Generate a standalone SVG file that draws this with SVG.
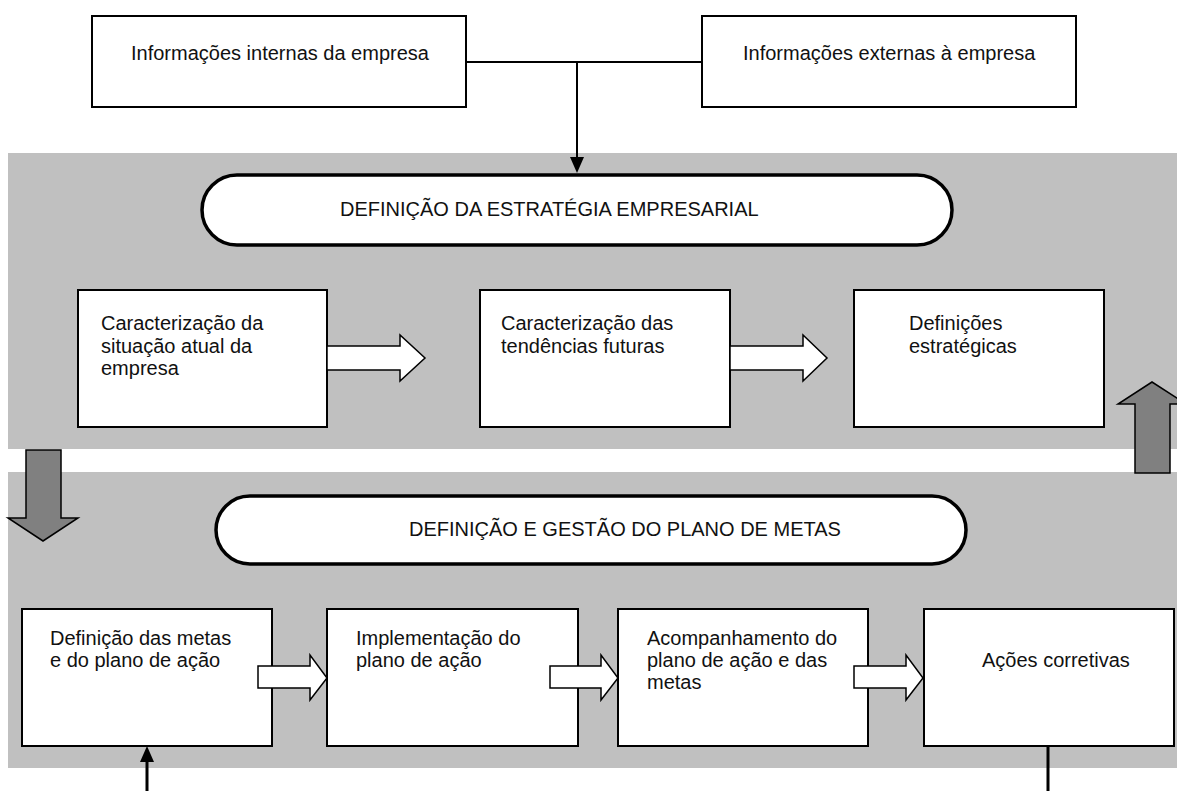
<svg xmlns="http://www.w3.org/2000/svg" width="1177" height="791" viewBox="0 0 1177 791">
<style>
.band{fill:#c0c0c0}
.box{fill:#fff;stroke:#000;stroke-width:2}
.pill{fill:#fff;stroke:#000;stroke-width:3.5}
.t{font-family:"Liberation Sans",Arial,sans-serif;font-size:20px;fill:#111}
.wa{fill:#fff;stroke:#000;stroke-width:1.5;stroke-linejoin:miter}
.ga{fill:#808080;stroke:#000;stroke-width:1.5}
.ln{fill:none;stroke:#000;stroke-width:2}
.ln3{fill:none;stroke:#000;stroke-width:3}
</style>
<rect width="1177" height="791" fill="#fff"/>
<g id="bands">
<rect class="band" x="8" y="153" width="1169" height="296"/>
<rect class="band" x="8" y="472" width="1169" height="296"/>
</g>
<g id="n-internas"><rect class="box" x="92" y="16" width="374" height="91"/><text class="t" x="131" y="60">Informações internas da empresa</text></g>
<g id="n-externas"><rect class="box" x="702" y="16" width="374" height="91"/><text class="t" x="743" y="60">Informações externas à empresa</text></g>
<g id="n-estrategia"><rect class="pill" x="202" y="175" width="750" height="70" rx="35" ry="35"/><text class="t" x="340" y="216">DEFINIÇÃO DA ESTRATÉGIA EMPRESARIAL</text></g>
<g id="n-situacao"><rect class="box" x="78" y="290" width="249" height="137"/><text class="t" x="101" y="330">Caracterização da</text><text class="t" x="101" y="352.5">situação atual da</text><text class="t" x="101" y="375">empresa</text></g>
<g id="n-tendencias"><rect class="box" x="480" y="290" width="250" height="137"/><text class="t" x="501" y="330">Caracterização das</text><text class="t" x="501" y="352.5">tendências futuras</text></g>
<g id="n-definicoes"><rect class="box" x="854" y="290" width="250" height="137"/><text class="t" x="909" y="330">Definições</text><text class="t" x="909" y="352.5">estratégicas</text></g>
<g id="n-metas"><rect class="pill" x="216" y="496" width="750" height="68" rx="34" ry="34"/><text class="t" x="409" y="536">DEFINIÇÃO E GESTÃO DO PLANO DE METAS</text></g>
<g id="n-defmetas"><rect class="box" x="22" y="609" width="250" height="137"/><text class="t" x="50" y="645">Definição das metas</text><text class="t" x="50" y="667">e do plano de ação</text></g>
<g id="n-implementacao"><rect class="box" x="327" y="609" width="251" height="137"/><text class="t" x="356" y="645">Implementação do</text><text class="t" x="356" y="667">plano de ação</text></g>
<g id="n-acompanhamento"><rect class="box" x="618" y="609" width="250" height="137"/><text class="t" x="647" y="645">Acompanhamento do</text><text class="t" x="647" y="667">plano de ação e das</text><text class="t" x="647" y="689">metas</text></g>
<g id="n-corretivas"><rect class="box" x="924" y="609" width="250" height="137"/><text class="t" x="982" y="667">Ações corretivas</text></g>
<g id="connectors">
<path class="ln" d="M466 62 H702 M577 62 V158"/>
<polygon points="570,157 584,157 577,173" fill="#000"/>
<polygon class="wa" points="327,346 400,346 400,335 425,358 400,381 400,370 327,370"/>
<polygon class="wa" points="730,346 803,346 803,335 827,358 803,381 803,370 730,370"/>
<polygon class="wa" points="258,666 310,666 310,655 327,678 310,700 310,688 258,688"/>
<polygon class="wa" points="550,666 601,666 601,655 618,678 601,700 601,688 550,688"/>
<polygon class="wa" points="854,666 906,666 906,655 923,678 906,700 906,688 854,688"/>
<polygon class="ga" points="26,450 61,450 61,518 78,518 43,541 8,518 26,518"/>
<polygon class="ga" points="1135,473 1170,473 1170,404 1186,404 1152,382 1118,404 1135,404"/>
<path class="ln3" d="M147 791 V760 M1048 746 V791"/>
<polygon points="140,762 154,762 147,746" fill="#000"/>
</g>
</svg>
